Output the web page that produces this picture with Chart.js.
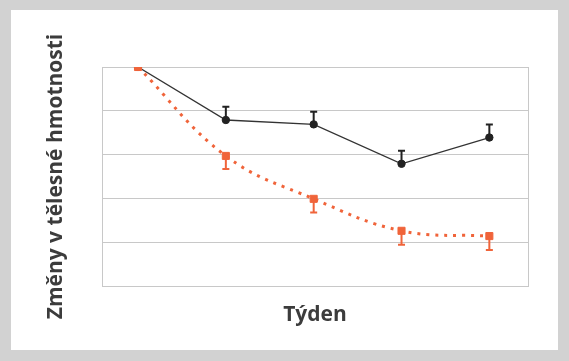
<!DOCTYPE html>
<html><head><meta charset="utf-8">
<script src="https://cdn.jsdelivr.net/npm/chart.js@4"></script>
<style>
html,body{margin:0;padding:0;background:#d2d2d2;width:569px;height:361px;overflow:hidden}
#wrap{position:absolute;left:11px;top:10px;width:547px;height:340px;background:#fff}
</style></head><body>
<div id="wrap"><canvas id="c" width="547" height="340"></canvas></div>
<script>
const weeks = [1, 2, 3, 4, 5];
const controlValues = [0, -1.21, -1.31, -2.21, -1.61];
const controlErrors = [0, 0.30, 0.29, 0.30, 0.30];
const treatedValues = [0, -2.03, -3.01, -3.74, -3.86];
const treatedErrors = [0, 0.30, 0.31, 0.32, 0.32];
const yTicks = [0, -1, -2, -3, -4, -5];

const BLACK = '#222222';
const ORANGE = '#f0643a';
const TITLE = '#3c3c3c';

const errorBars = {
  id: 'errorBars',
  beforeDatasetsDraw(chart) {
    const ctx = chart.ctx, ys = chart.scales.y;
    chart.data.datasets.forEach((ds, i) => {
      const meta = chart.getDatasetMeta(i);
      ctx.save();
      ctx.strokeStyle = ds.errColor;
      ctx.lineWidth = 2;
      meta.data.forEach((pt, j) => {
        const e = ds.errors[j];
        if (!e) return;
        const v = ds.data[j].y + ds.errDir * e;
        const y2 = ys.getPixelForValue(v);
        ctx.beginPath();
        ctx.moveTo(pt.x, pt.y);
        ctx.lineTo(pt.x, y2);
        ctx.moveTo(pt.x - 3.5, y2);
        ctx.lineTo(pt.x + 3.5, y2);
        ctx.stroke();
      });
      ctx.restore();
    });
  }
};

new Chart(document.getElementById('c'), {
  type: 'line',
  data: {
    datasets: [
      {
        order: 1,
        data: weeks.map((w, i) => ({x: w, y: controlValues[i]})),
        errors: controlErrors, errDir: 1, errColor: BLACK,
        borderColor: '#333333', borderWidth: 1.3,
        pointBackgroundColor: BLACK, pointBorderColor: BLACK,
        pointStyle: 'circle', pointRadius: 3.7, pointBorderWidth: 1,
        tension: 0
      },
      {
        order: 0,
        data: weeks.map((w, i) => ({x: w, y: treatedValues[i]})),
        errors: treatedErrors, errDir: -1, errColor: ORANGE,
        borderColor: ORANGE, borderWidth: 3, borderDash: [3, 6],
        pointBackgroundColor: ORANGE, pointBorderColor: ORANGE,
        pointStyle: 'rect', pointRadius: 5, pointBorderWidth: 1,
        tension: 0.4
      }
    ]
  },
  options: {
    responsive: false,
    animation: false,
    events: [],
    layout: {padding: {left: 32, top: 57, right: 30, bottom: 0}},
    plugins: {legend: {display: false}, tooltip: {enabled: false}},
    scales: {
      x: {
        type: 'linear', min: 0.59, max: 5.44,
        ticks: {display: false},
        grid: {display: false, drawTicks: false},
        border: {display: true, color: '#c8c8c8', width: 1},
        title: {display: true, text: 'Týden', color: TITLE,
          font: {family: 'Open Sans', size: 21, weight: 'bold', lineHeight: 1.2},
          padding: {top: 16.4, bottom: 22.4}}
      },
      y: {
        type: 'linear', min: -5, max: 0,
        afterBuildTicks: (s) => { s.ticks = yTicks.map(v => ({value: v})); },
        ticks: {display: false},
        grid: {display: true, drawTicks: false, color: '#c8c8c8', lineWidth: 1},
        border: {display: true, color: '#c8c8c8', width: 1},
        title: {display: true, text: 'Změny v tělesné hmotnosti', color: TITLE,
          font: {family: 'Open Sans', size: 21, weight: 'bold', lineHeight: 1.2},
          padding: {top: 0, bottom: 33.8}}
      },
      y2: {
        position: 'right', min: -5, max: 0,
        ticks: {display: false},
        grid: {display: false, drawTicks: false},
        border: {display: true, color: '#c8c8c8', width: 1}
      }
    }
  },
  plugins: [errorBars]
});
</script>
</body></html>
